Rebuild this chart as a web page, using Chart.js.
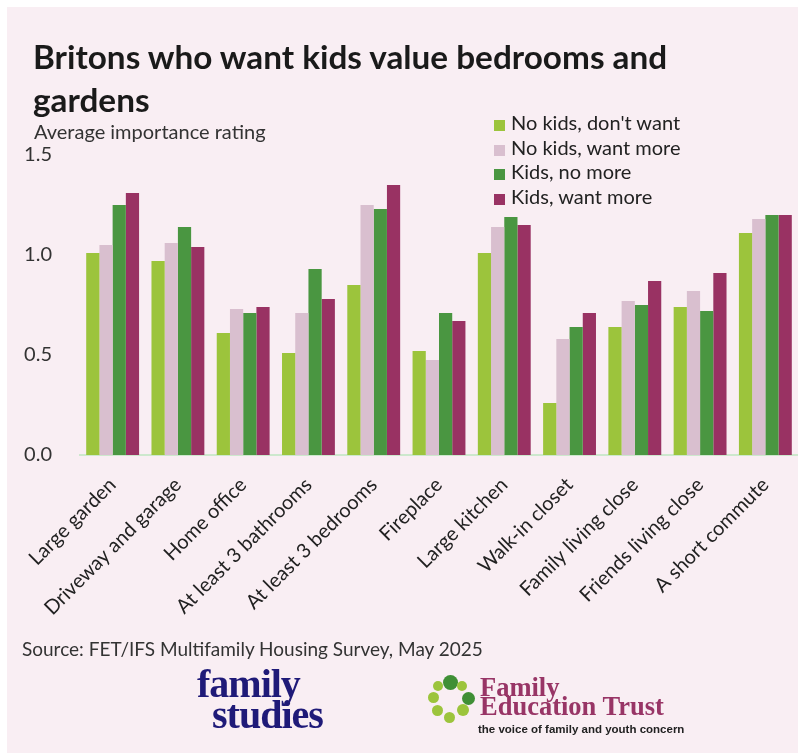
<!DOCTYPE html>
<html>
<head>
<meta charset="utf-8">
<script src="https://cdn.jsdelivr.net/npm/chart.js@4.4.1/dist/chart.umd.min.js"></script>
<style>
  html, body { margin: 0; padding: 0; background: #ffffff; }
  body { width: 798px; height: 753px; position: relative; overflow: hidden; font-family: 'Lato', sans-serif; }
  #panel { position: absolute; left: 7px; top: 7px; width: 791px; height: 746px; background: #f9eef3; }
  #chart { position: absolute; left: 0; top: 0; }
  .title { position: absolute; left: 33px; top: 35px; font-size: 33.3px; font-weight: 700; line-height: 43px; color: #1a1a1a; }
  .subtitle { position: absolute; left: 34px; top: 119px; font-size: 20px; color: #333333; }
  #legend { position: absolute; left: 494px; top: 110px; }
  .legend-item { height: 24.7px; line-height: 24.7px; font-size: 20px; color: #222222; white-space: nowrap; }
  .legend-item span.sw { display: inline-block; width: 11px; height: 11px; margin-right: 6px; vertical-align: -1px; }
  .source { position: absolute; left: 22px; top: 637px; font-size: 19px; color: #333333; }
  .fs { position: absolute; left: 197px; top: 668px; font-family: 'Liberation Serif', serif; font-weight: 700; color: #1f1a78; font-size: 40px; line-height: 31px; letter-spacing: -1px; }
  .fs div:nth-child(2) { padding-left: 15px; }
  .fet { position: absolute; left: 480px; top: 678px; font-family: 'Liberation Serif', serif; font-weight: 700; color: #983566; font-size: 26.5px; line-height: 19px; }
  .tag { position: absolute; left: 478px; top: 723px; font-family: 'Liberation Sans', sans-serif; font-weight: 700; font-size: 11.5px; color: #222222; }
  .dot { position: absolute; border-radius: 50%; }
</style>
</head>
<body>
<div id="panel"></div>
<canvas id="chart" width="798" height="753"></canvas>
<div class="title">Britons who want kids value bedrooms and<br>gardens</div>
<div class="subtitle">Average importance rating</div>
<div id="legend"></div>
<div class="source">Source: FET/IFS Multifamily Housing Survey, May 2025</div>
<div class="fs"><div>family</div><div>studies</div></div>
<div id="fetDots"></div>
<div class="fet">Family<br>Education Trust</div>
<div class="tag">the voice of family and youth concern</div>

<script>
const categories = [
    'Large garden', 'Driveway and garage', 'Home office', 'At least 3 bathrooms',
    'At least 3 bedrooms', 'Fireplace', 'Large kitchen', 'Walk-in closet',
    'Family living close', 'Friends living close', 'A short commute'
];

const seriesNames = ["No kids, don't want", 'No kids, want more', 'Kids, no more', 'Kids, want more'];
const seriesColors = ['#9cc43c', '#d9bfcf', '#4a9641', '#993263'];

const noKidsDontWant = [1.01, 0.97, 0.61, 0.51, 0.85, 0.52, 1.01, 0.26, 0.64, 0.74, 1.11];
const noKidsWantMore = [1.05, 1.06, 0.73, 0.71, 1.25, 0.475, 1.14, 0.58, 0.77, 0.82, 1.18];
const kidsNoMore     = [1.25, 1.14, 0.71, 0.93, 1.23, 0.71, 1.19, 0.64, 0.75, 0.72, 1.20];
const kidsWantMore   = [1.31, 1.04, 0.74, 0.78, 1.35, 0.67, 1.15, 0.71, 0.87, 0.91, 1.20];

const yTicks = [0, 0.5, 1.0, 1.5];

const seriesValues = [noKidsDontWant, noKidsWantMore, kidsNoMore, kidsWantMore];

// legend built from the series names and colours
const legendEl = document.getElementById('legend');
seriesNames.forEach((name, i) => {
    const row = document.createElement('div');
    row.className = 'legend-item';
    row.innerHTML = '<span class="sw" style="background:' + seriesColors[i] + '"></span>' + name.replace(/'/g, '&#39;');
    legendEl.appendChild(row);
});

// ring of dots in the trust logo
const dots = [
    [450, 682, 7.5, '#3f8f35'], [438, 686, 5, '#9cc43c'], [462, 686, 5, '#9cc43c'],
    [433, 697, 5.5, '#9cc43c'], [468, 698, 6.5, '#3f8f35'], [437, 710, 5.5, '#9cc43c'],
    [449, 717, 5.5, '#9cc43c'], [463, 710, 6, '#9cc43c']
];
const dotWrap = document.getElementById('fetDots');
dots.forEach(d => {
    const el = document.createElement('div');
    el.className = 'dot';
    el.style.left = (d[0] - d[2]) + 'px';
    el.style.top = (d[1] - d[2]) + 'px';
    el.style.width = el.style.height = (d[2] * 2) + 'px';
    el.style.background = d[3];
    dotWrap.appendChild(el);
});

const tickFont = { size: 20, family: "'Lato', sans-serif" };

new Chart(document.getElementById('chart'), {
    type: 'bar',
    data: {
        labels: categories,
        datasets: seriesNames.map((name, i) => ({
            label: name,
            data: seriesValues[i],
            backgroundColor: seriesColors[i],
            borderWidth: 0,
            barPercentage: 1.0,
            categoryPercentage: 0.81
        }))
    },
    options: {
        responsive: false,
        animation: false,
        layout: {
            padding: { left: 0, top: 155, right: 0, bottom: 0 }
        },
        plugins: {
            legend: { display: false },
            tooltip: { enabled: false }
        },
        scales: {
            x: {
                grid: { display: false },
                border: { display: true, color: '#cde8cd', width: 2 },
                ticks: {
                    color: '#222222',
                    font: tickFont,
                    autoSkip: false,
                    maxRotation: 45,
                    minRotation: 45,
                    padding: 10
                },
                afterFit: function(scale) {
                    scale.height = 753 - 455;
                }
            },
            y: {
                min: 0,
                max: 1.5,
                grid: { display: false },
                border: { display: false },
                afterBuildTicks: function(scale) {
                    scale.ticks = yTicks.map(v => ({ value: v }));
                },
                ticks: {
                    color: '#333333',
                    font: tickFont,
                    padding: 20,
                    callback: function(value) {
                        return value.toFixed(1);
                    }
                },
                afterFit: function(scale) {
                    scale.width = 80;
                }
            }
        }
    }
});
</script>
</body>
</html>
